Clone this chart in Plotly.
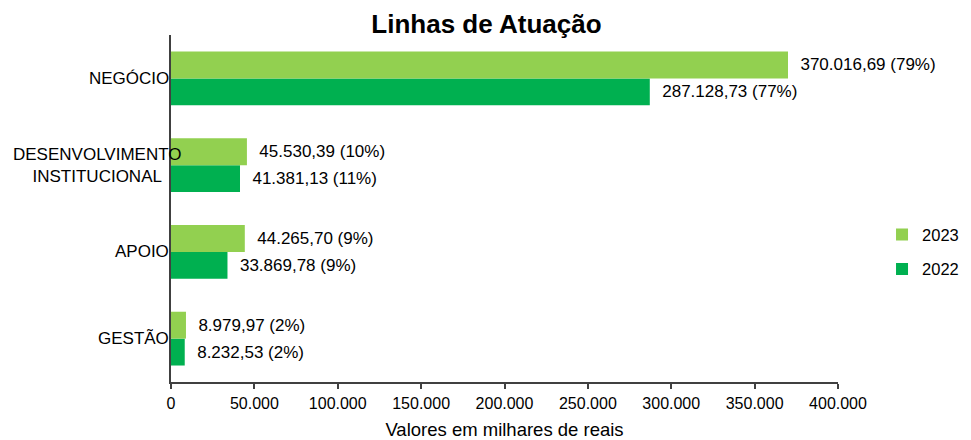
import plotly.graph_objects as go

categories = ["GESTÃO", "APOIO", "DESENVOLVIMENTO<br>INSTITUCIONAL", "NEGÓCIO"]
values_2023 = [8979.97, 44265.70, 45530.39, 370016.69]
values_2022 = [8232.53, 33869.78, 41381.13, 287128.73]
pct_2023 = ["2%", "9%", "10%", "79%"]
pct_2022 = ["2%", "9%", "11%", "77%"]
colors = {"2023": "#92D050", "2022": "#00B050"}
x_ticks = [0, 50000, 100000, 150000, 200000, 250000, 300000, 350000, 400000]


def br(v):
    s = f"{v:,.2f}"
    return s.replace(",", "X").replace(".", ",").replace("X", ".")


def labels(vals, pcts):
    return ["\u00a0\u00a0" + br(v) + " (" + p + ")" for v, p in zip(vals, pcts)]


FONT = "Liberation Sans, Arial, sans-serif"

fig = go.Figure()
fig.add_trace(go.Bar(
    y=categories, x=values_2022, name="2022", orientation="h",
    legendgroup="g2022", legendrank=2,
    marker=dict(color=colors["2022"], line=dict(width=0)),
    text=labels(values_2022, pct_2022), textposition="outside",
    constraintext="none", cliponaxis=False,
    textfont=dict(family=FONT, size=17, color="#000000"),
))
fig.add_trace(go.Bar(
    y=categories, x=values_2023, name="2023", orientation="h",
    legendgroup="g2023", legendrank=1,
    marker=dict(color=colors["2023"], line=dict(width=0)),
    text=labels(values_2023, pct_2023), textposition="outside",
    constraintext="none", cliponaxis=False,
    textfont=dict(family=FONT, size=17, color="#000000"),
))

annotations = []
for c in categories:
    if "<br>" in c:
        annotations.append(dict(xref="paper", yref="y", x=0, y=c, text=c,
                                xanchor="center", xshift=-74, showarrow=False,
                                align="center",
                                font=dict(family=FONT, size=17, color="#000000")))
    else:
        annotations.append(dict(xref="paper", yref="y", x=0, y=c, text=c,
                                xanchor="right", xshift=0, showarrow=False,
                                font=dict(family=FONT, size=17, color="#000000")))

fig.update_layout(
    width=971, height=440,
    margin=dict(l=171, r=133, t=35, b=58, autoexpand=False),
    paper_bgcolor="white", plot_bgcolor="white",
    barmode="group", bargap=0.38, bargroupgap=0,
    separators=",.",
    font=dict(family=FONT, size=16, color="#000000"),
    title=dict(text="<b>Linhas de Atuação</b>", xref="container", x=0.501,
               xanchor="center", y=0.945, yanchor="middle",
               font=dict(family=FONT, size=26, color="#000000")),
    legend=dict(x=1.066, y=0.375, xanchor="left", yanchor="middle",
                traceorder="grouped", font=dict(family=FONT, size=16.5),
                itemwidth=30, tracegroupgap=10, bgcolor="rgba(0,0,0,0)"),
    annotations=annotations,
)
fig.update_xaxes(range=[0, 400000], tickvals=x_ticks, tickformat=",d",
                 showgrid=False, zeroline=False, showline=True,
                 linecolor="#404040", linewidth=1.5, ticks="outside",
                 ticklen=5, tickcolor="#404040", tickwidth=1.5,
                 ticklabelstandoff=1,
                 tickfont=dict(family=FONT, size=16),
                 title=dict(text="Valores em milhares de reais",
                            font=dict(family=FONT, size=18.5), standoff=14))
fig.update_yaxes(showticklabels=False, showgrid=False, zeroline=False,
                 showline=True, linecolor="#404040", linewidth=2, ticks="",
                 categoryorder="array", categoryarray=categories)

fig.write_html("out.html")
